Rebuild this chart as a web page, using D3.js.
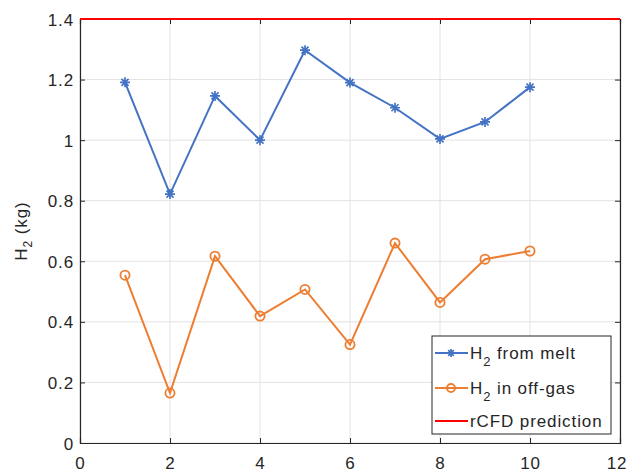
<!DOCTYPE html>
<html>
<head>
<meta charset="utf-8">
<script src="https://cdn.jsdelivr.net/npm/d3@7"></script>
<style>
body { margin: 0; background: #fff; }
text { font-family: "Liberation Sans", Arial, sans-serif; fill: #262626; letter-spacing: 0.9px; }
</style>
</head>
<body>
<div id="chart"></div>
<script>
var runs     = [1, 2, 3, 4, 5, 6, 7, 8, 9, 10];
var fromMelt = [1.191, 0.822, 1.146, 1.0, 1.297, 1.19, 1.107, 1.004, 1.06, 1.175];
var offGas   = [0.554, 0.165, 0.617, 0.419, 0.507, 0.325, 0.66, 0.464, 0.607, 0.634];
var rcfd     = 1.4;
var xTicks   = [0, 2, 4, 6, 8, 10, 12];
var yTicks   = [0, 0.2, 0.4, 0.6, 0.8, 1, 1.2, 1.4];

var W = 629, H = 472;
var m = {left: 80, right: 9, top: 19, bottom: 29};
var pw = W - m.left - m.right, ph = H - m.top - m.bottom;

var svg = d3.select("#chart").append("svg")
	.attr("width", W).attr("height", H);
var g = svg.append("g").attr("transform", "translate(" + m.left + "," + m.top + ")");

var x = d3.scaleLinear().domain([0, 12]).range([0, pw]);
var y = d3.scaleLinear().domain([0, 1.4]).range([ph, 0]);

// grid
g.selectAll("line.gx").data(xTicks).enter().append("line")
	.attr("x1", function(d){return x(d)}).attr("x2", function(d){return x(d)})
	.attr("y1", 0).attr("y2", ph)
	.attr("stroke", "#e3e3e3").attr("stroke-width", 1);
g.selectAll("line.gy").data(yTicks).enter().append("line")
	.attr("x1", 0).attr("x2", pw)
	.attr("y1", function(d){return y(d)}).attr("y2", function(d){return y(d)})
	.attr("stroke", "#e3e3e3").attr("stroke-width", 1);

// axes, ticks pointing inward
var fmt = function(d){ return d3.format("~g")(d) };
var ax = g.append("g").attr("transform", "translate(0," + ph + ")")
	.call(d3.axisBottom(x).tickValues(xTicks).tickSize(-5).tickFormat(fmt));
var axT = g.append("g")
	.call(d3.axisTop(x).tickValues(xTicks).tickSize(-5).tickFormat(""));
var ay = g.append("g")
	.call(d3.axisLeft(y).tickValues(yTicks).tickSize(-5).tickPadding(6).tickFormat(fmt));
var ayR = g.append("g").attr("transform", "translate(" + pw + ",0)")
	.call(d3.axisRight(y).tickValues(yTicks).tickSize(-5).tickFormat(""));
[ax, axT, ay, ayR].forEach(function(a){
	a.selectAll("path").attr("stroke", "#262626").attr("stroke-width", 1.2);
	a.selectAll("line").attr("stroke", "#262626");
	a.selectAll("text").style("font-size", "17px").attr("fill", "#262626")
		.style("font-family", "Liberation Sans, Arial, sans-serif");
});
ax.selectAll("text").attr("y", 26).attr("dy", 0)
	.attr("dx", function(d){ return d == 12 ? -3.5 : 0 });
ay.selectAll("text").attr("dy", "0.36em");

var line = d3.line()
	.x(function(d){return x(d[0])})
	.y(function(d){return y(d[1])});

var blue = "#4472c4", orange = "#ed7d31", red = "#ff0000";
var meltData = runs.map(function(r, i){return [r, fromMelt[i]]});
var gasData  = runs.map(function(r, i){return [r, offGas[i]]});

function star(sel, s) {
	var p = "M" + (-s) + ",0L" + s + ",0M0," + (-s) + "L0," + s +
		"M" + (-s*0.7) + "," + (-s*0.7) + "L" + (s*0.7) + "," + (s*0.7) +
		"M" + (-s*0.7) + "," + (s*0.7) + "L" + (s*0.7) + "," + (-s*0.7);
	sel.append("path").attr("d", p).attr("stroke", blue).attr("stroke-width", 1.7).attr("fill", "none");
}

g.append("path").datum(meltData).attr("d", line)
	.attr("fill", "none").attr("stroke", blue).attr("stroke-width", 2);
g.selectAll("g.star").data(meltData).enter().append("g")
	.attr("transform", function(d){return "translate(" + x(d[0]) + "," + y(d[1]) + ")"})
	.each(function(){ star(d3.select(this), 5) });

g.append("path").datum(gasData).attr("d", line)
	.attr("fill", "none").attr("stroke", orange).attr("stroke-width", 2);
g.selectAll("circle.og").data(gasData).enter().append("circle")
	.attr("cx", function(d){return x(d[0])}).attr("cy", function(d){return y(d[1])})
	.attr("r", 4.6).attr("fill", "none").attr("stroke", orange).attr("stroke-width", 1.8);

g.append("line")
	.attr("x1", x(0)).attr("x2", x(12)).attr("y1", y(rcfd)).attr("y2", y(rcfd))
	.attr("stroke", red).attr("stroke-width", 2.2);

// y label
var yl = svg.append("text")
	.attr("transform", "translate(27," + (m.top + ph/2) + ") rotate(-90)")
	.attr("text-anchor", "middle").style("font-size", "17px");
yl.append("tspan").text("H");
yl.append("tspan").attr("dy", 5).style("font-size", "12px").text("2");
yl.append("tspan").attr("dy", -5).text(" (kg)");

// legend
var lg = svg.append("g").attr("transform", "translate(432,336)");
lg.append("rect").attr("width", 179).attr("height", 98)
	.attr("fill", "#fff").attr("stroke", "#262626").attr("stroke-width", 1);
var items = [
	{name: ["H", "2", " from melt"], color: blue, mark: "star"},
	{name: ["H", "2", " in off-gas"], color: orange, mark: "circle"},
	{name: ["rCFD prediction"], color: red, mark: null}
];
var rowY = [17, 52, 85];
items.forEach(function(it, i){
	var row = lg.append("g").attr("transform", "translate(0," + rowY[i] + ")");
	row.append("line").attr("x1", 3).attr("x2", 36).attr("y1", 0).attr("y2", 0)
		.attr("stroke", it.color).attr("stroke-width", 2);
	if (it.mark == "star") star(row.append("g").attr("transform", "translate(19,0)"), 4);
	if (it.mark == "circle") row.append("circle").attr("cx", 19).attr("cy", 0).attr("r", 4)
		.attr("fill", "none").attr("stroke", orange).attr("stroke-width", 1.8);
	var t = row.append("text").attr("x", 38).attr("y", 6).style("font-size", "17px");
	if (it.name.length == 3) {
		t.append("tspan").text(it.name[0]);
		t.append("tspan").attr("dy", 7).style("font-size", "13px").text(it.name[1]);
		t.append("tspan").attr("dy", -7).text(it.name[2]);
	} else t.text(it.name[0]);
});
</script>
</body>
</html>
